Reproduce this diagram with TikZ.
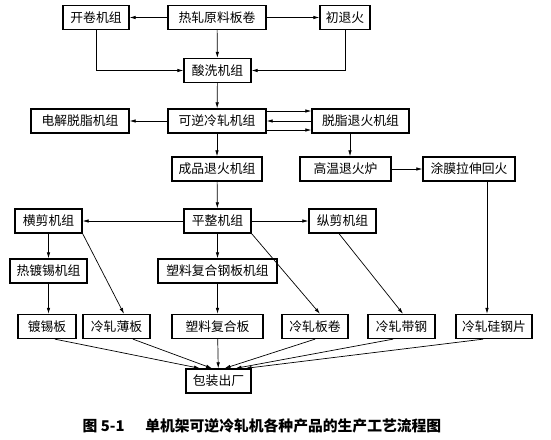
\documentclass[tikz,border=0pt]{standalone}
\usepackage{fontspec}
\setmainfont{Noto Sans CJK SC}
\usetikzlibrary{arrows.meta}

\begin{document}
\begin{tikzpicture}[x=1pt,y=-1pt,
		box/.style={draw, line width=1.3pt, minimum height=24pt, inner sep=0pt, font=\fontsize{12.8}{14}\selectfont},
		flow/.style={line width=0.7pt, -{Latex[length=6pt,width=3.5pt]}}]
		%%%%% START %%%%%
		
		\useasboundingbox (0,0) rectangle (551,439);
		
		\node[box, minimum width=66pt] (kaijuan) at (96, 17.5) {开卷机组};
		\node[box, minimum width=98pt] (rezha) at (217, 17.5) {热轧原料板卷};
		\node[box, minimum width=50pt] (chutui) at (345, 17.5) {初退火};
		
		\node[box, minimum width=67pt] (suanxi) at (217.5, 70.5) {酸洗机组};
		
		\node[box, minimum width=98pt] (dianjie) at (80, 121) {电解脱脂机组};
		\node[box, minimum width=98pt] (keni) at (217, 121) {可逆冷轧机组};
		\node[box, minimum width=97pt] (tuozhi) at (360.5, 121) {脱脂退火机组};
		
		\node[box, minimum width=90pt] (chengpin) at (217, 169) {成品退火机组};
		\node[box, minimum width=91pt] (gaowen) at (345.5, 169) {高温退火炉};
		\node[box, minimum width=92pt] (tumo) at (469, 169) {涂膜拉伸回火};
		
		\node[box, minimum width=67pt] (hengjian) at (48.5, 221) {横剪机组};
		\node[box, minimum width=67pt] (pingzheng) at (217.5, 221) {平整机组};
		\node[box, minimum width=67pt] (zongjian) at (342.5, 221) {纵剪机组};
		
		\node[box, minimum width=77pt] (redu) at (48.5, 271) {热镀锡机组};
		\node[box, minimum width=119pt] (suliao) at (217.5, 271) {塑料复合钢板机组};
		
		\node[box, minimum width=58pt] (duxi) at (47, 326.5) {镀锡板};
		\node[box, minimum width=67pt] (bao) at (116.5, 326.5) {冷轧薄板};
		\node[box, minimum width=91pt] (suliaoban) at (217.5, 326.5) {塑料复合板};
		\node[box, minimum width=66pt] (banjuan) at (315, 326.5) {冷轧板卷};
		\node[box, minimum width=67pt] (daigang) at (401.5, 326.5) {冷轧带钢};
		\node[box, minimum width=76pt] (guigang) at (494, 326.5) {冷轧硅钢片};
		
		\node[box, minimum width=65pt] (baozhuang) at (218.5, 381) {包装出厂};
		
		\node[font=\bfseries\fontsize{14.8}{17}\selectfont] (title) at (262, 426) {图 5-1\hspace{1.4em}单机架可逆冷轧机各种产品的生产工艺流程图};
		
		\draw[flow] (rezha) -- (kaijuan);
		\draw[flow] (rezha) -- (chutui);
		\draw[flow] (rezha) -- (suanxi);
		\draw[flow] (kaijuan.south) |- (suanxi.west);
		\draw[flow] (chutui.south) |- (suanxi.east);
		\draw[flow] (suanxi) -- (keni);
		
		\draw[flow] (keni) -- (dianjie);
		\draw[flow] ([yshift=10pt]keni.east) -- ([yshift=10pt]tuozhi.west);
		\draw[flow] (tuozhi.west) -- (keni.east);
		\draw[flow] ([yshift=-9pt]keni.east) -- ([yshift=-9pt]tuozhi.west);
		\draw[flow] (keni) -- (chengpin);
		\draw[flow] ([xshift=-10.5pt]tuozhi.south) -- ([xshift=-10.5pt]tuozhi.south |- gaowen.north);
		\draw[flow] (gaowen) -- (tumo);
		
		\draw[flow] (chengpin) -- (pingzheng);
		\draw[flow] (pingzheng) -- (hengjian);
		\draw[flow] (pingzheng) -- (zongjian);
		\draw[flow] (pingzheng) -- (suliao);
		\draw[flow] (hengjian) -- (redu);
		
		\draw[flow] (redu.south) -- (redu.south |- duxi.north);
		\draw[flow] (hengjian.south east) -- ([xshift=7.5pt]bao.north);
		\draw[flow] (suliao) -- (suliaoban);
		\draw[flow] (pingzheng.south east) -- ([xshift=5pt]banjuan.north);
		\draw[flow] ([xshift=-3.5pt]zongjian.south) -- ([xshift=1.5pt]daigang.north);
		\draw[flow] ([xshift=18pt]tumo.south) -- ([xshift=18pt]tumo.south |- guigang.north);
		
		\draw[flow] ([xshift=8pt]duxi.south) -- ([xshift=-18.5pt]baozhuang.north);
		\draw[flow] ([xshift=16.5pt]bao.south) -- ([xshift=-6.5pt]baozhuang.north);
		\draw[flow] (suliaoban) -- (baozhuang);
		\draw[flow] (banjuan.south) -- ([xshift=6pt]baozhuang.north);
		\draw[flow] ([xshift=-8.5pt]daigang.south) -- ([xshift=17pt]baozhuang.north);
		\draw[flow] ([xshift=-11pt]guigang.south) -- ([xshift=27pt]baozhuang.north);
		
		%%%%% END %%%%%
	\end{tikzpicture}
\end{document}
